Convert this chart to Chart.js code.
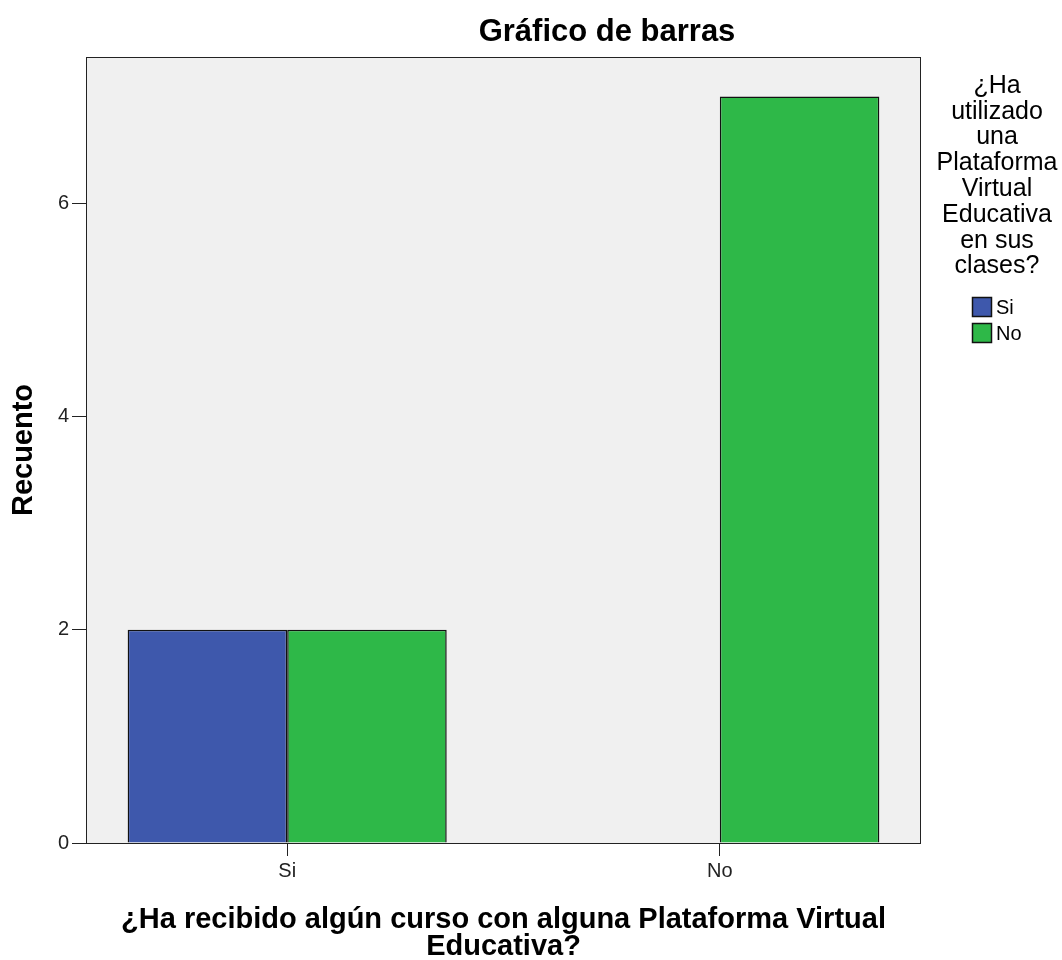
<!DOCTYPE html>
<html>
<head>
<meta charset="utf-8">
<script src="https://cdn.jsdelivr.net/npm/chart.js@4"></script>
<style>
  html,body{margin:0;padding:0;background:#fff;}
  canvas{display:block;}
</style>
</head>
<body>
<canvas id="chart" width="1062" height="960"></canvas>
<script>
// ======================= DATA =======================
const categories=['Si','No'];
const seriesNames=['Si','No'];
const siValues=[2,0];
const noValues=[2,7];
const yTicks=[0,2,4,6];

const chartTitle='Gráfico de barras';
const xTitle=['¿Ha recibido algún curso con alguna Plataforma Virtual','Educativa?'];
const yTitle='Recuento';
const legendTitle=['¿Ha','utilizado','una','Plataforma','Virtual','Educativa','en sus','clases?'];

const FONT='"Liberation Sans", Arial, sans-serif';

// ======================= PLUGINS =======================
const plotBox={
  id:'plotBox',
  beforeDraw(chart){
    const a=chart.chartArea, ctx=chart.ctx;
    ctx.save();
    ctx.fillStyle='#F0F0F0';
    ctx.fillRect(a.left,a.top,a.right-a.left,a.bottom-a.top);
    ctx.restore();
  },
  afterDatasetsDraw(chart){
    const a=chart.chartArea, ctx=chart.ctx;
    ctx.save();
    ctx.strokeStyle='#222';
    ctx.lineWidth=1;
    ctx.strokeRect(a.left+0.5,a.top+0.5,a.right-a.left-1,a.bottom-a.top);
    ctx.restore();
  }
};

const sideText={
  id:'sideText',
  afterDraw(chart){
    const ctx=chart.ctx;
    ctx.save();
    // main title
    ctx.fillStyle='#000';
    ctx.font='bold 31px '+FONT;
    ctx.textAlign='center';
    ctx.textBaseline='middle';
    ctx.fillText(chartTitle,607,32);
    // legend title
    ctx.font='25px '+FONT;
    legendTitle.forEach((t,i)=>ctx.fillText(t,997,86+i*25.8));
    // legend items
    ctx.textAlign='left';
    ctx.font='20px '+FONT;
    chart.data.datasets.forEach((ds,i)=>{
      const y=297+i*26;
      ctx.fillStyle=ds.backgroundColor;
      ctx.fillRect(972,y,20,20);
      ctx.strokeStyle='#111';
      ctx.lineWidth=1.5;
      ctx.strokeRect(972.5,y+0.5,19,19);
      ctx.fillStyle='#000';
      ctx.fillText(ds.label,996,y+11);
    });
    ctx.restore();
  }
};

// ======================= CHART =======================
const toPoints=vals=>vals.map((v,i)=>({x:i,y:v}));

new Chart(document.getElementById('chart').getContext('2d'),{
  type:'bar',
  data:{
    datasets:[
      {label:seriesNames[0],data:toPoints(siValues),backgroundColor:'#3E58AC',borderColor:'#111',borderWidth:1.5},
      {label:seriesNames[1],data:toPoints(noValues),backgroundColor:'#2EB848',borderColor:'#111',borderWidth:1.5}
    ]
  },
  options:{
    responsive:false,
    animation:false,
    devicePixelRatio:1,
    categoryPercentage:0.7375,
    barPercentage:1,
    layout:{padding:{top:57,right:141,left:0,bottom:0}},
    plugins:{legend:{display:false},tooltip:{enabled:false}},
    scales:{
      x:{
        type:'linear',
        offset:false,
        min:-0.465,max:1.465,
        afterBuildTicks:s=>{s.ticks=categories.map((_,i)=>({value:i}));},
        afterFit:s=>{s.height=117;},
        border:{display:false},
        grid:{offset:false,drawOnChartArea:false,drawTicks:true,tickLength:13,color:'#222'},
        ticks:{padding:3,color:'#222',font:{family:FONT,size:20},callback:v=>categories[v]},
        title:{display:true,text:xTitle,color:'#000',font:{family:FONT,size:29,weight:'bold',lineHeight:0.93},padding:{top:0,bottom:0}}
      },
      y:{
        min:0,max:7.37,
        afterBuildTicks:s=>{s.ticks=yTicks.map(v=>({value:v}));},
        afterFit:s=>{s.width=86;},
        border:{display:false},
        grid:{drawOnChartArea:false,drawTicks:true,tickLength:14,color:'#222'},
        ticks:{padding:3,color:'#222',font:{family:FONT,size:20}},
        title:{display:true,text:yTitle,color:'#000',font:{family:FONT,size:29,weight:'bold',lineHeight:1},padding:{top:9,bottom:0}}
      }
    }
  },
  plugins:[plotBox,sideText]
});
</script>
</body>
</html>
